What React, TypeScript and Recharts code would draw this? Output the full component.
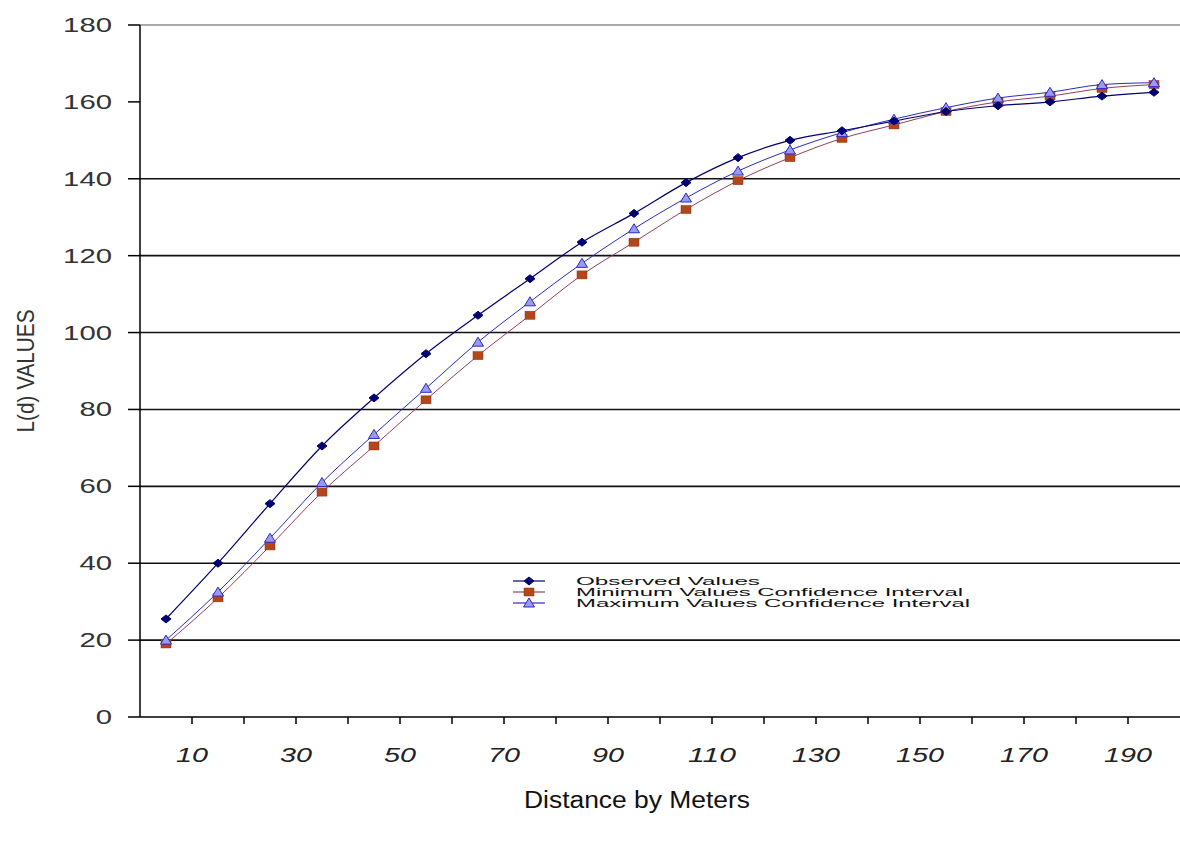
import { LineChart, Line, XAxis, YAxis, ReferenceLine, Legend } from "recharts";

// distance by meters, one point per 10 m class
const distances = [5, 15, 25, 35, 45, 55, 65, 75, 85, 95, 105, 115, 125, 135, 145, 155, 165, 175, 185, 195];
const observed = [25.5, 40, 55.5, 70.5, 83, 94.5, 104.5, 114, 123.5, 131, 139, 145.5, 150, 152.5, 155, 157.5, 159, 160, 161.5, 162.5];
const minCI = [19, 31, 44.5, 58.5, 70.5, 82.5, 94, 104.5, 115, 123.5, 132, 139.5, 145.5, 150.5, 154, 157.5, 160, 161.5, 163.5, 164.5];
const maxCI = [20, 32.5, 46.5, 61, 73.5, 85.5, 97.5, 108, 118, 127, 135, 142, 147.5, 152, 155.5, 158.5, 161, 162.5, 164.5, 165];

const xTicks = [10, 20, 30, 40, 50, 60, 70, 80, 90, 100, 110, 120, 130, 140, 150, 160, 170, 180, 190];
const xLabels = [10, 30, 50, 70, 90, 110, 130, 150, 170, 190];
const yTicks = [0, 20, 40, 60, 80, 100, 120, 140, 160, 180];
const gridLines = [20, 40, 60, 80, 100, 120, 140];

const seriesNames = {
  observed: "Observed Values",
  minCI: "Minimum Values Confidence Interval",
  maxCI: "Maximum Values Confidence Interval",
};

const data = distances.map((d, i) => ({
  distance: d,
  observed: observed[i],
  minCI: minCI[i],
  maxCI: maxCI[i],
}));

const FONT = '"Liberation Sans", Arial, sans-serif';
const OBS = "#000070";
const MIN_LINE = "#94405a";
const MIN_FILL = "#b4461b";
const MAX_LINE = "#2b2bc0";
const MAX_FILL = "#9a9af6";

const Diamond = ({ cx, cy }: any) =>
  cx == null ? null : (
    <polygon points={`${cx - 5},${cy} ${cx},${cy - 4} ${cx + 5},${cy} ${cx},${cy + 4}`} fill={OBS} stroke={OBS} />
  );

const Square = ({ cx, cy }: any) =>
  cx == null ? null : <rect x={cx - 5} y={cy - 4} width={10} height={8} fill={MIN_FILL} stroke="#8a3010" strokeWidth={0.5} />;

const Triangle = ({ cx, cy }: any) =>
  cx == null ? null : (
    <polygon points={`${cx - 5.5},${cy + 4} ${cx},${cy - 5} ${cx + 5.5},${cy + 4}`} fill={MAX_FILL} stroke={MAX_LINE} strokeWidth={1} />
  );

const XTick = ({ x, y, payload }: any) => {
  if (!xLabels.includes(payload.value)) return <g />;
  const s = String(payload.value);
  return (
    <text
      x={x}
      y={y + 29}
      textAnchor="middle"
      dominantBaseline="central"
      fontStyle="italic"
      fontSize={20}
      fontFamily={FONT}
      fill="#222"
      textLength={s.length * 16}
      lengthAdjust="spacingAndGlyphs"
    >
      {s}
    </text>
  );
};

const YTick = ({ x, y, payload }: any) => {
  const s = String(payload.value);
  return (
    <text
      x={x - 14}
      y={y}
      textAnchor="end"
      dominantBaseline="central"
      fontSize={20}
      fontFamily={FONT}
      fill="#333"
      textLength={s.length * 16.3}
      lengthAdjust="spacingAndGlyphs"
    >
      {s}
    </text>
  );
};

const YLabel = ({ viewBox }: any) => {
  const cy = viewBox ? viewBox.y + viewBox.height / 2 : 371;
  return (
    <text
      x={25}
      y={cy}
      transform={`rotate(-90 25 ${cy})`}
      textAnchor="middle"
      dominantBaseline="central"
      fontSize={24}
      fontFamily={FONT}
      fill="#333"
      textLength={123}
      lengthAdjust="spacingAndGlyphs"
    >
      L(d) VALUES
    </text>
  );
};

const XLabel = () => (
  <text
    x={637}
    y={800}
    textAnchor="middle"
    dominantBaseline="central"
    fontSize={23}
    fontFamily={FONT}
    fill="#111"
    textLength={226}
    lengthAdjust="spacingAndGlyphs"
  >
    Distance by Meters
  </text>
);

const legendRows = [
  { key: "observed", color: OBS, marker: "diamond", len: 184 },
  { key: "minCI", color: MIN_LINE, marker: "square", len: 387 },
  { key: "maxCI", color: MAX_LINE, marker: "triangle", len: 394 },
];

const LegendBox = () => (
  <svg width={480} height={40}>
    {legendRows.map((r, i) => {
      const cy = 9 + i * 11;
      return (
        <g key={r.key}>
          <line x1={8} x2={40} y1={cy} y2={cy} stroke={r.color} strokeWidth={1.2} />
          {r.marker === "diamond" && <Diamond cx={24} cy={cy} />}
          {r.marker === "square" && <Square cx={24} cy={cy} />}
          {r.marker === "triangle" && <Triangle cx={24} cy={cy} />}
          <text
            x={71}
            y={cy}
            dominantBaseline="central"
            fontSize={11.5}
            fontFamily={FONT}
            fill="#111"
            textLength={r.len}
            lengthAdjust="spacingAndGlyphs"
          >
            {seriesNames[r.key as keyof typeof seriesNames]}
          </text>
        </g>
      );
    })}
  </svg>
);

export default function App() {
  return (
    <div style={{ position: "absolute", left: 0, top: 0, width: 1180, height: 841, background: "#fff", fontFamily: FONT }}>
      <LineChart width={1180} height={841} data={data} margin={{ top: 25, right: 0, left: 0, bottom: 0 }}>
        <XAxis
          dataKey="distance"
          type="number"
          domain={[0, 200]}
          ticks={xTicks}
          interval={0}
          height={124}
          tickSize={7}
          tick={<XTick />}
          stroke="#000"
          strokeWidth={1.5}
          label={<XLabel />}
        />
        <YAxis
          type="number"
          domain={[0, 180]}
          ticks={yTicks}
          interval={0}
          width={140}
          tickSize={12}
          tick={<YTick />}
          stroke="#000"
          strokeWidth={1.5}
          label={<YLabel />}
        />
        {gridLines.map((v) => (
          <ReferenceLine key={v} y={v} stroke="#111" strokeWidth={1.6} />
        ))}
        <ReferenceLine y={180} stroke="#aaa" strokeWidth={2} />
        <Legend
          layout="vertical"
          align="center"
          verticalAlign="middle"
          content={<LegendBox />}
          wrapperStyle={{ left: 505, top: 572, width: 480, height: 40 }}
        />
        <Line
          type="monotone"
          dataKey="minCI"
          name={seriesNames.minCI}
          stroke={MIN_LINE}
          strokeWidth={1}
          dot={<Square />}
          activeDot={false}
          isAnimationActive={false}
        />
        <Line
          type="monotone"
          dataKey="maxCI"
          name={seriesNames.maxCI}
          stroke={MAX_LINE}
          strokeWidth={1}
          dot={<Triangle />}
          activeDot={false}
          isAnimationActive={false}
        />
        <Line
          type="monotone"
          dataKey="observed"
          name={seriesNames.observed}
          stroke={OBS}
          strokeWidth={1.2}
          dot={<Diamond />}
          activeDot={false}
          isAnimationActive={false}
        />
      </LineChart>
    </div>
  );
}
